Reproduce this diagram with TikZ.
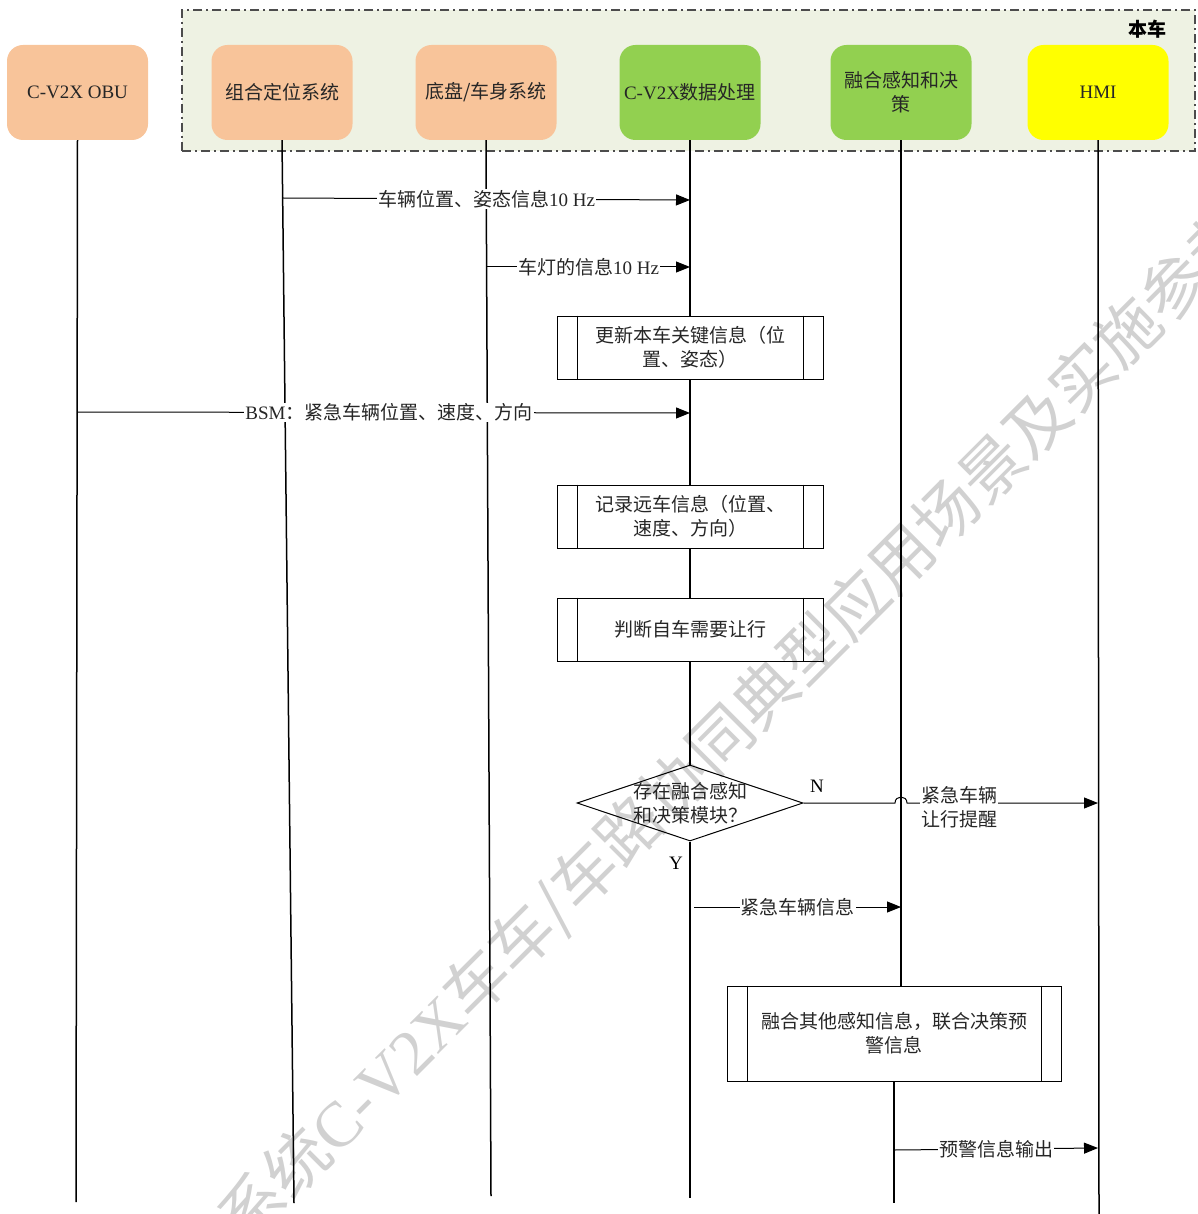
\documentclass[tikz,border=0pt]{standalone}
\usepackage{fontspec}
\setmainfont{Noto Sans CJK SC}
\newfontfamily\lat{Liberation Serif}
\usetikzlibrary{arrows.meta,shapes.geometric}
\definecolor{peach}{HTML}{F8C49A}
\definecolor{lgreen}{HTML}{92D050}
\definecolor{hmiyellow}{HTML}{FFFF00}
\definecolor{groupbg}{HTML}{EEF2E3}
\begin{document}
\begin{tikzpicture}[x=1pt,y=-1pt,
  font=\fontsize{19}{24}\selectfont,
  head/.style={rounded corners=16pt, minimum width=141pt, minimum height=95pt, align=center, inner sep=2pt, text=black!85},
  lifeline/.style={line width=1.5pt},
  msg/.style={line width=1pt, -{Triangle[length=14pt,width=11pt]}},
  lbl/.style={fill=white, inner sep=1pt, text=black!85},
  proc/.style={draw, line width=1pt, align=center, text=black!85},
  wm/.style={rotate=45, text=black!18, font=\fontsize{64}{64}\selectfont, inner sep=0pt}
]
\useasboundingbox (0,0) rectangle (1197,1214);

% watermark
\node[wm] (wmark) at (737,726) {系统{\lat C-V2X}车车/车路协同典型应用场景及实施参考};

% group
\node[draw=black!70, fill=groupbg, line width=1.1pt, dash pattern=on 9pt off 4pt on 2pt off 4pt,
      minimum width=1013pt, minimum height=141pt, inner sep=0pt] (grp) at (688.5,80.5) {};
\node[font=\fontsize{19}{24}\selectfont\bfseries, anchor=east, inner sep=0pt] (grplabel) at (1167,29) {本车};

% headers
\node[head, fill=peach] (h1) at (77.5,92.5) {\lat C-V2X OBU};
\node[head, fill=peach] (h2) at (282,92.5) {组合定位系统};
\node[head, fill=peach] (h3) at (486,92.5) {底盘/车身系统};
\node[head, fill=lgreen] (h4) at (690,92.5) {{\lat C-V2X}数据处理};
\node[head, fill=lgreen] (h5) at (901,92.5) {融合感知和决\\策};
\node[head, fill=hmiyellow] (h6) at (1098,92.5) {\lat HMI};

% process boxes
\node[proc, minimum width=266pt, minimum height=63pt] (p1) at (690,347.5) {更新本车关键信息（位\\置、姿态）};
\node[proc, minimum width=266pt, minimum height=63pt] (p2) at (690,516.5) {记录远车信息（位置、\\速度、方向）};
\node[proc, minimum width=266pt, minimum height=63pt] (p3) at (690,629.5) {判断自车需要让行};
\node[proc, minimum width=334pt, minimum height=95pt] (p4) at (894,1033.5) {融合其他感知信息，联合决策预\\警信息};
\foreach \p in {p1,p2,p3,p4}{
  \draw[line width=1pt] ([xshift=20.5pt]\p.north west) -- ([xshift=20.5pt]\p.south west);
  \draw[line width=1pt] ([xshift=-20.5pt]\p.north east) -- ([xshift=-20.5pt]\p.south east);
}

% decision
\node[diamond, draw, line width=1pt, minimum width=226pt, minimum height=76pt, inner sep=0pt] (dec) at (690,803) {};
\node[align=center, inner sep=0pt, text=black!85] (dectext) at (690,803) {存在融合感知\\和决策模块？};

% lifeline ends
\coordinate (e1) at (76,1202);
\coordinate (e2) at (294,1203);
\coordinate (e3) at (491,1196);
\coordinate (e4) at (690,1198);
\coordinate (e5) at (894,1203);
\coordinate (e6) at (1099,1214);

% lifelines
\draw[lifeline] (h1.south) -- (e1);
\draw[lifeline] (h2.south) -- (e2);
\draw[lifeline] (h3.south) -- (e3);
\draw[lifeline] (h4.south) -- (p1.north);
\draw[lifeline] (p1.south) -- (p2.north);
\draw[lifeline] (p2.south) -- (p3.north);
\draw[lifeline] (p3.south) -- (dec.north);
\draw[lifeline] (dec.south) -- (e4);
\draw[lifeline] (h5.south) -- (h5.south |- p4.north);
\draw[lifeline] (p4.south) -- (e5);
\draw[lifeline] (h6.south) -- (e6);

% messages
\coordinate (s1) at (283,198);  \coordinate (t1) at (690,200);
\coordinate (s2) at (487,267);  \coordinate (t2) at (690,267);
\coordinate (s3) at (77,412);   \coordinate (t3) at (690,413);
\coordinate (t5) at (1098,803);
\coordinate (s6) at (694,907);  \coordinate (t6) at (901,907);
\coordinate (s7) at (894,1150); \coordinate (t7) at (1098,1148);

\draw[msg] (s1) -- (t1) node[lbl, midway] (l1) {车辆位置、姿态信息{\lat 10 Hz}};
\draw[msg] (s2) -- (t2) node[lbl, midway] (l2) {车灯的信息{\lat 10 Hz}};
\draw[msg] (s3) -- (t3) node[lbl, pos=0.509] (l3) {{\lat BSM}：紧急车辆位置、速度、方向};
\draw[msg] (dec.east) -- (895,803) .. controls (895,795) and (907,795) .. (907,803) -- (t5);
\node[lbl, align=left, inner sep=1pt] (l5) at (959,807) {紧急车辆\\让行提醒};
\node[font=\fontsize{19}{24}\selectfont\lat, inner sep=0pt] (nlab) at (817,786) {N};
\node[font=\fontsize{19}{24}\selectfont\lat, inner sep=0pt] (ylab) at (676,863) {Y};
\draw[msg] (s6) -- (t6) node[lbl, midway] (l6) {紧急车辆信息};
\draw[msg] (s7) -- (t7) node[lbl, midway] (l7) {预警信息输出};
\end{tikzpicture}
\end{document}
